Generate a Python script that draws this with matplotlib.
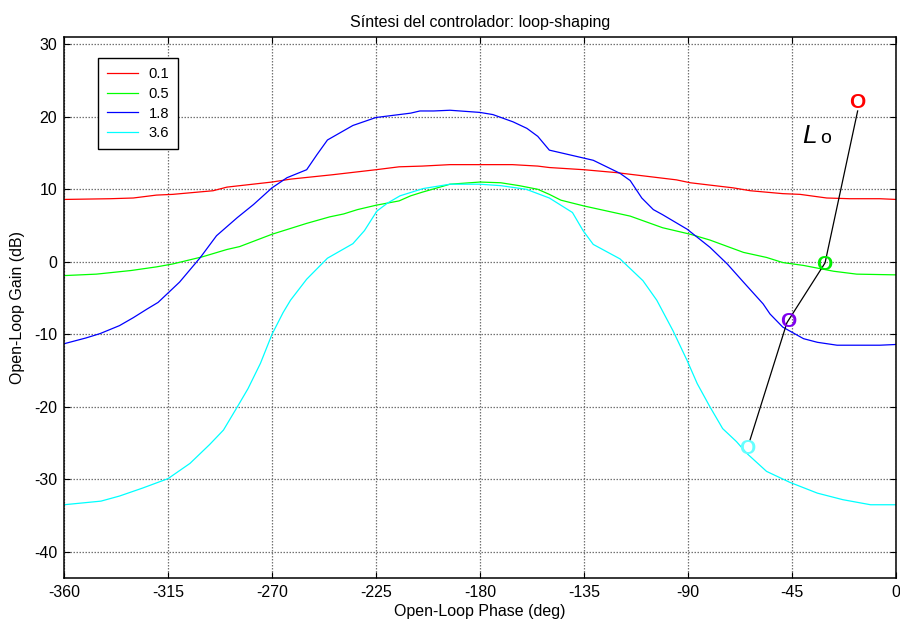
import matplotlib
matplotlib.use("Agg")
import matplotlib.pyplot as plt

plt.rcParams['font.family'] = ['Liberation Sans', 'DejaVu Sans']

# ---- data ----
red_phase = [-360, -340, -330, -320, -313, -295.5, -289.5, -270, -262, -244, -225, -215, -205, -193,
             -180, -166, -155, -150, -135, -121, -95, -89, -70.5, -63, -49, -41.5, -30, -20, -7, 0]
red_gain = [8.6, 8.7, 8.8, 9.2, 9.3, 9.8, 10.3, 11.0, 11.4, 12.0, 12.7, 13.1, 13.2, 13.4,
            13.4, 13.4, 13.2, 13.0, 12.7, 12.3, 11.3, 10.9, 10.2, 9.8, 9.4, 9.3, 8.8, 8.7, 8.7, 8.6]

green_phase = [-360, -346, -331, -320, -313, -300, -289.5, -284, -270, -255, -245, -239, -233, -225,
               -215, -210, -205, -193, -180, -171, -163, -155, -150, -145, -135, -115, -101, -89,
               -80.5, -66, -56, -49, -40, -27, -17, 0]
green_gain = [-1.9, -1.7, -1.2, -0.7, -0.3, 0.7, 1.7, 2.1, 3.8, 5.3, 6.2, 6.6, 7.2, 7.8,
              8.4, 9.1, 9.6, 10.7, 11.0, 10.9, 10.5, 10.0, 9.3, 8.5, 7.7, 6.3, 4.7, 3.8,
              3.0, 1.3, 0.6, -0.1, -0.5, -1.3, -1.7, -1.8]

blue_phase = [-360, -350.5, -344.4, -336, -330, -324, -319.3, -310, -301, -294, -285, -278, -270,
              -263.5, -255, -250.5, -246, -235, -225, -220, -210, -206, -200, -193, -180, -174.4,
              -165.7, -159.7, -155, -150, -131, -119.4, -115, -110, -105, -101, -90.4, -80.5, -73,
              -66, -57.5, -54.5, -49, -40, -34, -25.5, -7, 0]
blue_gain = [-11.3, -10.5, -9.9, -8.8, -7.7, -6.5, -5.6, -2.8, 0.6, 3.6, 6.1, 7.9, 10.2,
             11.6, 12.7, 14.8, 16.8, 18.8, 19.9, 20.1, 20.5, 20.8, 20.8, 20.9, 20.6, 20.3,
             19.3, 18.4, 17.3, 15.4, 14.0, 12.2, 11.2, 8.8, 7.2, 6.5, 4.5, 2.0, -0.3,
             -2.8, -5.8, -7.2, -9.0, -10.6, -11.1, -11.5, -11.5, -11.4]

cyan_phase = [-360, -344, -336, -326, -315, -305.5, -297, -291, -285, -280.4, -275, -270, -265.2,
              -262, -255, -246, -235, -230, -224.6, -220, -214.6, -204.6, -193, -180, -171, -160,
              -150, -140, -135.4, -131, -119.4, -109.5, -103.5, -96.5, -90.4, -86, -80.5, -75,
              -69, -64.6, -56, -46, -34, -23, -11, 0]
cyan_gain = [-33.5, -33.0, -32.3, -31.2, -29.9, -27.8, -25.2, -23.2, -20.0, -17.5, -14.0, -10.0, -7.0,
             -5.3, -2.4, 0.5, 2.5, 4.3, 7.0, 8.1, 9.1, 10.1, 10.7, 10.7, 10.5, 10.0,
             8.8, 6.8, 4.3, 2.4, 0.4, -2.6, -5.3, -9.5, -13.6, -16.8, -20.0, -23.0,
             -24.8, -26.4, -28.9, -30.4, -31.9, -32.8, -33.5, -33.5]

series_labels = ['0.1', '0.5', '1.8', '3.6']
series_colors = ['#ff0000', '#00ff00', '#0000ff', '#00ffff']

# Lo path (black line) and its point markers
lo_phase = [-16.6, -30.7, -47.2, -63.2]
lo_gain = [20.8, -0.15, -8.4, -24.6]
mark_phase = [-16.6, -30.9, -46.7, -64.2]
mark_gain = [21.9, -0.4, -8.2, -25.7]
mark_colors = ['#ff0000', '#00ee00', '#7f00ee', '#66ffff']

x_ticks = [-360, -315, -270, -225, -180, -135, -90, -45, 0]
y_ticks = [-40, -30, -20, -10, 0, 10, 20, 30]

# ---- figure ----
fig = plt.figure(figsize=(9, 6.25), dpi=100)
ax = fig.add_axes([64 / 900, 1 - 578 / 625, 832 / 900, 541 / 625])

curves = [(red_phase, red_gain), (green_phase, green_gain),
          (blue_phase, blue_gain), (cyan_phase, cyan_gain)]
for (ph, g), c, lab in zip(curves, series_colors, series_labels):
    ax.plot(ph, g, color=c, lw=0.9, label=lab)

ax.plot(lo_phase, lo_gain, color='black', lw=0.9)
for p, g, c in zip(mark_phase, mark_gain, mark_colors):
    ax.text(p, g, 'O', color=c, fontsize=15, fontweight='bold', ha='center', va='center')

ax.text(-40.8, 16.4, 'L', fontsize=19, style='italic', ha='left', va='baseline')
ax.text(-32.8, 16.4, 'o', fontsize=14, ha='left', va='baseline')

ax.set_xlim(-360, 0)
ax.set_ylim(-43.6, 31)
ax.set_xticks(x_ticks)
ax.set_yticks(y_ticks)
ax.set_xticklabels([str(t) for t in x_ticks])
ax.set_yticklabels([str(t) for t in y_ticks])

ax.grid(True, color='0.45', linestyle=(0, (1.2, 1.2)), linewidth=0.9)
ax.tick_params(direction='in', length=4, width=0.8, top=True, right=True,
               labelsize=11.5, pad=5)
for s in ax.spines.values():
    s.set_linewidth(1.1)

ax.set_xlabel('Open-Loop Phase (deg)', fontsize=11.5, labelpad=3)
ax.set_ylabel('Open-Loop Gain (dB)', fontsize=11.5, labelpad=6)
ax.set_title('Síntesi del controlador: loop-shaping', fontsize=11.5, pad=7)

leg = ax.legend(loc='upper left', bbox_to_anchor=(34 / 832, 1 - 21 / 541),
                fontsize=10.6, frameon=True, fancybox=False, edgecolor='black',
                framealpha=1, handlelength=2.1, handletextpad=0.75,
                borderpad=0.6, labelspacing=0.4, borderaxespad=0)
leg.get_frame().set_linewidth(1.0)

fig.savefig('out.png', dpi=100)
